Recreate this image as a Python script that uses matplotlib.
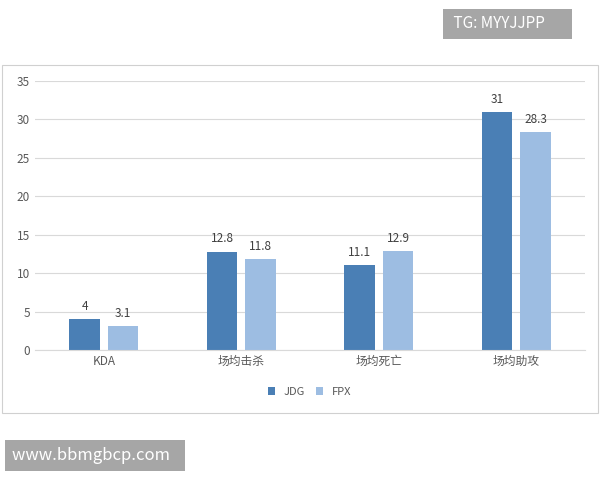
import matplotlib
matplotlib.use("Agg")
import matplotlib.pyplot as plt
from matplotlib.patches import Rectangle
import numpy as np

plt.rcParams['font.family'] = ['Noto Sans CJK SC', 'DejaVu Sans']

categories = ["KDA", "场均击杀", "场均死亡", "场均助攻"]
jdg = [4, 12.8, 11.1, 31]
fpx = [3.1, 11.8, 12.9, 28.3]
labels_jdg = ["4", "12.8", "11.1", "31"]
labels_fpx = ["3.1", "11.8", "12.9", "28.3"]

fig = plt.figure(figsize=(6, 4.8), dpi=100)
fig.patches.append(Rectangle((2/600, 1-413/480), 596/600, 348/480, transform=fig.transFigure,
                             fill=False, edgecolor="#d0d0d0", lw=0.8))
ax = fig.add_axes([35/600, 1-350/480, 550/600, 269/480])
x = np.arange(len(categories))
w = 0.22
c1, c2 = "#4a7fb5", "#9dbde2"
b1 = ax.bar(x - 0.035 - w/2 + 0.005, jdg, w, color=c1, label="JDG")
b2 = ax.bar(x + 0.035 + w/2 - 0.005, fpx, w, color=c2, label="FPX")
for bars, labs in ((b1, labels_jdg), (b2, labels_fpx)):
    for b, l in zip(bars, labs):
        ax.text(b.get_x() + b.get_width()/2, b.get_height() + 0.8, l, ha="center", va="bottom",
                fontsize=8.5, color="#404040")
ax.set_xlim(-0.5, 3.5)
ax.set_ylim(0, 35)
ax.set_yticks(range(0, 36, 5))
ax.set_xticks(x)
ax.set_xticklabels(categories)
ax.tick_params(length=0, labelsize=8.5, colors="#595959")
ax.grid(axis="y", color="#d9d9d9", lw=0.8)
ax.set_axisbelow(True)
for s in ["top", "right", "left"]:
    ax.spines[s].set_visible(False)
ax.spines["bottom"].set_color("#d9d9d9")
ax.legend(loc="upper center", bbox_to_anchor=(0.5, -0.1), ncol=2, frameon=False,
          fontsize=8, handlelength=0.6, handleheight=0.6, columnspacing=1, labelcolor="#595959")

fig.text(450/600, 1-24/480, " TG: MYYJJPP      ", fontsize=11, color="white", va="center",
         bbox=dict(facecolor="#a6a6a6", edgecolor="none", pad=5))
fig.text(12/600, 1-455/480, "www.bbmgbcp.com  ", fontsize=12, color="white", va="center",
         bbox=dict(facecolor="#a6a6a6", edgecolor="none", pad=5))
fig.savefig("out.png", dpi=100)
